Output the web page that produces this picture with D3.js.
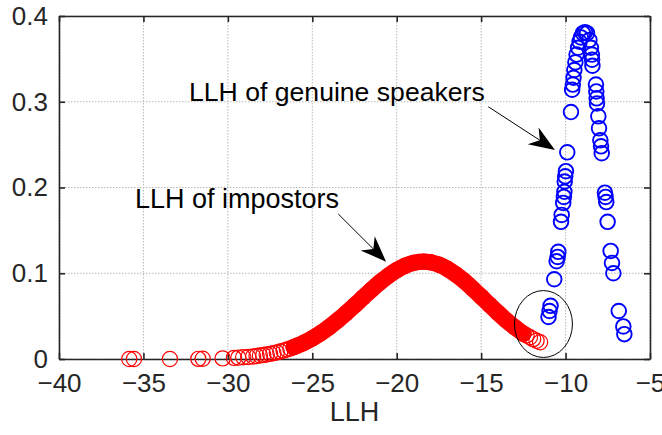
<!DOCTYPE html>
<html>
<head>
<meta charset="utf-8">
<script src="https://cdn.jsdelivr.net/npm/d3@7"></script>
<style>
  body { margin: 0; background: #fff; }
  svg { display: block; font-family: 'Liberation Sans', Arial, Helvetica, sans-serif; }
</style>
</head>
<body>
<div id="chart"></div>
<script>
// Données
const impostorX = [-35.84, -35.56, -33.43, -31.75, -31.49, -30.31, -29.64, -29.38, -29.09, -28.79,
  -28.5, -28.3, -28.1, -27.9, -27.7, -27.5, -27.3, -27.1, -26.9, -26.7, -26.5, -26.3, -26.1, -25.9,
  -25.5, -25.0, -24.5, -24.0, -23.5, -23.0, -22.5, -22.0, -21.5, -21.0, -20.5, -20.0, -19.5, -19.0,
  -18.4, -18.0, -17.5, -17.0, -16.5, -16.0, -15.5, -15.0, -14.5, -14.0, -13.5, -13.0, -12.5,
  -12.31, -12.11, -11.92, -11.72, -11.51];
const impostorY = [0, 0, 0, 0.0002, 0.0003, 0.0007, 0.0013, 0.0016, 0.0020, 0.0024,
  0.0030, 0.0035, 0.0040, 0.0046, 0.0052, 0.0060, 0.0068, 0.0077, 0.0087, 0.0098, 0.0110, 0.0123, 0.0138, 0.0154,
  0.0189, 0.0241, 0.0302, 0.0372, 0.0450, 0.0535, 0.0624, 0.0716, 0.0807, 0.0893, 0.0970, 0.1036, 0.1087, 0.1121,
  0.1135, 0.1128, 0.1100, 0.1052, 0.0987, 0.0909, 0.0820, 0.0727, 0.0631, 0.0538, 0.0449, 0.0369, 0.0296,
  0.0275, 0.0253, 0.0232, 0.0213, 0.0195];

const genuineX = [-11.01, -10.95, -10.89, -10.67, -10.53, -10.47, -10.43, -10.27, -10.23, -10.14,
  -10.10, -10.07, -10.05, -10.02, -9.98, -9.90, -9.68, -9.61, -9.57, -9.53, -9.48, -9.42, -9.35,
  -9.26, -9.17, -9.09, -8.97, -8.85, -8.73, -8.59, -8.50, -8.44, -8.43, -8.41, -8.20, -8.18, -8.16,
  -8.14, -8.06, -8.02, -7.94, -7.90, -7.86, -7.67, -7.63, -7.59, -7.51, -7.33, -7.25, -7.17,
  -6.85, -6.58, -6.52];
const genuineY = [0.049, 0.056, 0.062, 0.093, 0.114, 0.119, 0.125, 0.160, 0.168, 0.182,
  0.189, 0.195, 0.207, 0.213, 0.219, 0.241, 0.288, 0.314, 0.320, 0.328, 0.337, 0.346, 0.355,
  0.363, 0.370, 0.375, 0.380, 0.381, 0.380, 0.372, 0.363, 0.355, 0.349, 0.342, 0.320, 0.312, 0.304,
  0.298, 0.283, 0.269, 0.255, 0.248, 0.240, 0.194, 0.189, 0.183, 0.160, 0.126, 0.112, 0.100,
  0.056, 0.038, 0.029];

const xTicks = [-40, -35, -30, -25, -20, -15, -10, -5];
const yTicks = [0, 0.1, 0.2, 0.3, 0.4];
const xLabel = 'LLH';
const genuineLabel = 'LLH of genuine speakers';
const impostorLabel = 'LLH of impostors';

// Constantes
const W = 662, H = 435;
const margin = { top: 16, right: 12, bottom: 76, left: 59 },
  width = W - margin.left - margin.right,
  height = H - margin.top - margin.bottom;
const axisColor = '#262626';

const svg = d3.select('#chart')
  .append('svg')
  .attr('width', W)
  .attr('height', H);

const g = svg.append('g')
  .attr('transform', 'translate(' + margin.left + ',' + margin.top + ')');

const x = d3.scaleLinear().domain([-40, -5]).range([0, width]);
const y = d3.scaleLinear().domain([0, 0.4]).range([height, 0]);

// grille pointillée
g.append('g')
  .selectAll('line')
  .data(xTicks)
  .join('line')
  .attr('x1', d => x(d)).attr('x2', d => x(d))
  .attr('y1', 0).attr('y2', height)
  .attr('stroke', '#b8b8b8')
  .attr('stroke-dasharray', '1.5,1.5');

g.append('g')
  .selectAll('line')
  .data(yTicks)
  .join('line')
  .attr('y1', d => y(d)).attr('y2', d => y(d))
  .attr('x1', 0).attr('x2', width)
  .attr('stroke', '#b8b8b8')
  .attr('stroke-dasharray', '1.5,1.5');

// axes (ticks vers l'intérieur, boîte complète)
const fmtY = d => d === 0 ? '0' : d3.format('.1f')(d);

const styleAxis = sel => {
  sel.select('.domain').attr('stroke', axisColor).attr('stroke-width', 1.6);
  sel.selectAll('.tick line').attr('stroke', axisColor).attr('stroke-width', 1.6);
  sel.selectAll('.tick text').attr('fill', axisColor).style('font-size', '26px');
};

g.append('g')
  .attr('transform', 'translate(0,' + height + ')')
  .call(d3.axisBottom(x).tickValues(xTicks).tickSizeInner(-6).tickSizeOuter(0).tickPadding(15))
  .call(styleAxis);

g.append('g')
  .call(d3.axisTop(x).tickValues(xTicks).tickSizeInner(-6).tickSizeOuter(0).tickFormat(''))
  .call(styleAxis);

g.append('g')
  .call(d3.axisLeft(y).tickValues(yTicks).tickSizeInner(-6).tickSizeOuter(0).tickPadding(11).tickFormat(fmtY))
  .call(styleAxis);

g.append('g')
  .attr('transform', 'translate(' + width + ',0)')
  .call(d3.axisRight(y).tickValues(yTicks).tickSizeInner(-6).tickSizeOuter(0).tickFormat(''))
  .call(styleAxis);

g.append('text')
  .attr('x', width / 2)
  .attr('y', height + 62)
  .attr('text-anchor', 'middle')
  .attr('fill', axisColor)
  .style('font-size', '27px')
  .text(xLabel);

// imposteurs (rouge)
const impostors = impostorX.map((v, i) => ({ x: v, y: impostorY[i] }));
const genuine = genuineX.map((v, i) => ({ x: v, y: genuineY[i] }));

const rMarker = 7.6;

// partie dense : les cercles se recouvrent en une bande pleine
g.append('path')
  .datum(impostors.filter(d => d.x >= -26.1 && d.x <= -12.5))
  .attr('d', d3.line().x(d => x(d.x)).y(d => y(d.y)).curve(d3.curveMonotoneX))
  .attr('fill', 'none')
  .attr('stroke', '#ff0000')
  .attr('stroke-width', 2 * rMarker + 1.2)
  .attr('stroke-linecap', 'round')
  .attr('stroke-linejoin', 'round');

g.append('g')
  .selectAll('circle')
  .data(impostors)
  .join('circle')
  .attr('cx', d => x(d.x))
  .attr('cy', d => y(d.y))
  .attr('r', rMarker)
  .attr('fill', 'none')
  .attr('stroke', '#ff0000')
  .attr('stroke-width', 1.2);

// locuteurs authentiques (bleu)
g.append('g')
  .selectAll('circle')
  .data(genuine)
  .join('circle')
  .attr('cx', d => x(d.x))
  .attr('cy', d => y(d.y))
  .attr('r', 7.3)
  .attr('fill', 'none')
  .attr('stroke', '#0000ff')
  .attr('stroke-width', 1.9);

// ellipse autour du recouvrement
g.append('ellipse')
  .attr('cx', x(-11.31))
  .attr('cy', y(0.0408))
  .attr('rx', x(-11.31 + 1.717) - x(-11.31))
  .attr('ry', y(0) - y(0.039))
  .attr('fill', 'none')
  .attr('stroke', '#000')
  .attr('stroke-width', 1);

// annotations avec flèches
function arrow(x0, y0, x1, y1) {
  const px0 = x(x0), py0 = y(y0), px1 = x(x1), py1 = y(y1);
  const len = Math.hypot(px1 - px0, py1 - py0);
  const ux = (px1 - px0) / len, uy = (py1 - py0) / len;
  const L = 26, hw = 10, notch = 18;
  g.append('line')
    .attr('x1', px0).attr('y1', py0)
    .attr('x2', px1 - ux * notch).attr('y2', py1 - uy * notch)
    .attr('stroke', '#000').attr('stroke-width', 1);
  const pts = [
    [px1, py1],
    [px1 - ux * L - uy * hw, py1 - uy * L + ux * hw],
    [px1 - ux * notch, py1 - uy * notch],
    [px1 - ux * L + uy * hw, py1 - uy * L - ux * hw]
  ];
  g.append('path')
    .attr('d', 'M' + pts.map(p => p.join(',')).join('L') + 'Z')
    .attr('fill', '#000');
}

arrow(-14.58, 0.2942, -10.63, 0.2437);
arrow(-23.46, 0.1691, -20.63, 0.1135);

g.append('text')
  .attr('x', x(-32.30))
  .attr('y', y(0.3009))
  .style('font-size', '26.6px')
  .text(genuineLabel);

g.append('text')
  .attr('x', x(-35.50))
  .attr('y', y(0.1761))
  .style('font-size', '27px')
  .text(impostorLabel);
</script>
</body>
</html>
